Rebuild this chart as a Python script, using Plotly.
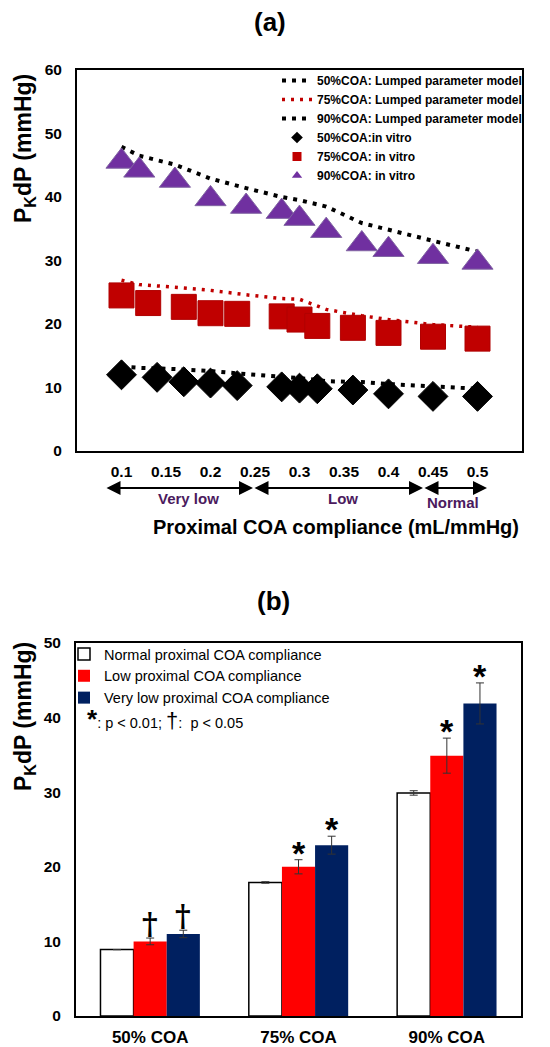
import plotly.graph_objects as go

# ---------------- data: panel (a) ----------------
x_model = [0.10, 0.12, 0.16, 0.20, 0.24, 0.28, 0.30, 0.33, 0.37, 0.40, 0.45, 0.50]
model50 = [13.3, 13.1, 12.9, 12.6, 12.1, 11.7, 11.5, 11.0, 10.85, 10.55, 10.1, 9.8]
model75 = [26.9, 26.2, 25.8, 25.3, 24.6, 24.0, 23.9, 22.3, 21.3, 20.7, 19.9, 19.5]
model90 = [47.9, 46.5, 45.1, 42.9, 41.4, 40.0, 39.5, 38.5, 35.9, 34.8, 33.1, 31.4]

x_vitro50 = [0.10, 0.14, 0.17, 0.20, 0.23, 0.28, 0.30, 0.32, 0.36, 0.40, 0.45, 0.50]
vitro50 = [12.0, 11.6, 10.9, 10.7, 10.3, 10.1, 9.9, 9.8, 9.6, 9.0, 8.6, 8.6]
x_vitro75 = [0.10, 0.13, 0.17, 0.20, 0.23, 0.28, 0.30, 0.32, 0.36, 0.40, 0.45, 0.50]
vitro75 = [24.5, 23.3, 22.7, 21.7, 21.6, 21.2, 20.7, 19.7, 19.4, 18.6, 18.0, 17.7]
x_vitro90 = [0.10, 0.12, 0.16, 0.20, 0.24, 0.28, 0.30, 0.33, 0.37, 0.40, 0.45, 0.50]
vitro90 = [45.6, 44.2, 42.6, 39.7, 38.5, 37.7, 36.6, 34.7, 32.6, 31.7, 30.6, 29.7]

x_ticks_a = [0.1, 0.15, 0.2, 0.25, 0.3, 0.35, 0.4, 0.45, 0.5]
x_ticktext_a = ["0.1", "0.15", "0.2", "0.25", "0.3", "0.35", "0.4", "0.45", "0.5"]
y_ticks_a = [0, 10, 20, 30, 40, 50, 60]

# ---------------- data: panel (b) ----------------
groups = ["50% COA", "75% COA", "90% COA"]
normal = [8.9, 17.9, 29.9]
normal_err = [0.0, 0.1, 0.3]
low = [10.0, 20.0, 34.9]
low_err = [0.45, 0.95, 2.35]
verylow = [11.0, 22.9, 41.9]
verylow_err = [0.5, 1.2, 2.75]
sig_low = ["†", "*", "*"]
sig_verylow = ["†", "*", "*"]
y_ticks_b = [0, 10, 20, 30, 40, 50]

FONT = "Liberation Sans, Arial, sans-serif"
OFF = 8                      # page body margin
W, H = 550 - OFF, 1047 - OFF


def px(xp):
    return (xp - OFF) / W


def py(yp):
    return 1 - (yp - OFF) / H


fig = go.Figure()

# ---- panel (a) model lines ----
line_specs = [
    (model50, "#000000", 4, "4px,6px", "50%COA: Lumped parameter model"),
    (model75, "#C00000", 3.5, "3px,6px", "75%COA: Lumped parameter model"),
    (model90, "#000000", 4, "4px,6px", "90%COA: Lumped parameter model"),
]
for ys, col, w, dash, name in line_specs:
    fig.add_trace(go.Scatter(x=x_model, y=ys, mode="lines", xaxis="x", yaxis="y",
                             line=dict(color=col, width=w, dash=dash),
                             name=name, showlegend=False))

marker_specs = [
    (x_vitro50, vitro50, "diamond", "#000000", "#000000", 23, "50%COA:in vitro"),
    (x_vitro75, vitro75, "square", "#C00000", "#B00000", 25, "75%COA: in vitro"),
    (x_vitro90, vitro90, "triangle-up", "#7030A0", "#8064A2", 27, "90%COA: in vitro"),
]
for xs, ys, sym, col, lcol, size, name in marker_specs:
    fig.add_trace(go.Scatter(x=xs, y=ys, mode="markers", xaxis="x", yaxis="y",
                             marker=dict(symbol=sym, color=col, size=size,
                                         line=dict(color=lcol, width=1)),
                             name=name, showlegend=False))

# legend entries for panel (a) with small symbols
for ys, col, w, dash, name in line_specs:
    fig.add_trace(go.Scatter(x=[None], y=[None], mode="lines", xaxis="x", yaxis="y",
                             line=dict(color=col, width=w, dash=dash),
                             name=name, legend="legend"))
for xs, ys, sym, col, lcol, size, name in marker_specs:
    fig.add_trace(go.Scatter(x=[None], y=[None], mode="markers", xaxis="x", yaxis="y",
                             marker=dict(symbol=sym, color=col, size=9),
                             name=name, legend="legend"))

# ---- panel (b) bars ----
bar_specs = [
    (normal, normal_err, "#FFFFFF", "#000000", 1.5, "Normal proximal COA compliance"),
    (low, low_err, "#FF0000", "#FF0000", 0, "Low proximal COA compliance"),
    (verylow, verylow_err, "#002060", "#002060", 0, "Very low proximal COA compliance"),
]
for ys, err, col, lcol, lw, name in bar_specs:
    fig.add_trace(go.Bar(x=groups, y=ys, xaxis="x2", yaxis="y2", name=name,
                         marker=dict(color=col, line=dict(color=lcol, width=lw)),
                         error_y=dict(type="data", array=err, visible=True,
                                      color="#333333", thickness=1, width=4),
                         legend="legend2"))

BARGAP = 0.33
bar_w = (1 - BARGAP) / 3

annotations = []
# significance marks above bars
for i, g in enumerate(groups):
    for offs, vals, errs, marks in [(0.0, low, low_err, sig_low),
                                    (bar_w, verylow, verylow_err, sig_verylow)]:
        m = marks[i]
        if m == "†":
            annotations.append(dict(x=i + offs, y=vals[i] + errs[i], xref="x2", yref="y2",
                                    text="<b>†</b>", showarrow=False, xanchor="center",
                                    yanchor="bottom", yshift=-5,
                                    font=dict(family="DejaVu Serif", size=30, color="#000")))
        else:
            annotations.append(dict(x=i + offs, y=vals[i] + errs[i], xref="x2", yref="y2",
                                    text="<b>*</b>", showarrow=False, xanchor="center",
                                    yanchor="bottom", yshift=-14,
                                    font=dict(family=FONT, size=34, color="#000")))


def label(x, y, text, size, color="#000", angle=0, xanchor="center", family=FONT):
    return dict(x=px(x), y=py(y), xref="paper", yref="paper", text=text, showarrow=False,
                xanchor=xanchor, yanchor="middle", textangle=angle,
                font=dict(family=family, size=size, color=color))


annotations += [
    label(270, 22, "<b>(a)</b>", 26),
    label(273, 601, "<b>(b)</b>", 26),
    label(24, 149, "<b>P<sub>K</sub>dP (mmHg)</b>", 23, angle=-90),
    label(24, 717, "<b>P<sub>K</sub>dP (mmHg)</b>", 23, angle=-90),
    label(336, 527, "<b>Proximal COA compliance (mL/mmHg)</b>", 20),
    label(188, 499, "<b>Very low</b>", 15, color="#4B1A5E"),
    label(343, 499, "<b>Low</b>", 15, color="#4B1A5E"),
    label(453, 502, "<b>Normal</b>", 15, color="#4B1A5E"),
    label(85, 719, "<span style='font-size:26px'><b>*</b></span>: p &lt; 0.01; "
                   "<span style='font-size:22px'>†</span>:  p &lt; 0.05", 14.5, xanchor="left"),
]

# double-headed range arrows under the x axis of panel (a)
for x0, x1 in [(105, 253), (253, 423), (423, 487)]:
    annotations.append(dict(x=px(x1), y=py(488), xref="paper", yref="paper",
                            ax=x0 - x1, ay=0, axref="pixel", ayref="pixel",
                            text="", showarrow=True, arrowside="end+start",
                            arrowhead=2, arrowsize=1.4, arrowwidth=2, arrowcolor="#000"))

axis_common = dict(showgrid=False, zeroline=False, showline=True, mirror=True,
                   linecolor="#000", linewidth=2, ticks="", automargin=False)

fig.update_layout(
    width=W, height=H,
    margin=dict(l=0, r=0, t=0, b=0, pad=0, autoexpand=False),
    paper_bgcolor="white", plot_bgcolor="white",
    font=dict(family=FONT, color="#000"),
    barmode="group", bargap=BARGAP, bargroupgap=0,
    xaxis=dict(domain=[px(77), px(522)], anchor="y", range=[0.05, 0.55],
               tickvals=x_ticks_a, ticktext=x_ticktext_a, ticklabelstandoff=5,
               tickfont=dict(family=FONT, size=15.5, weight="bold", color="#000"),
               **axis_common),
    yaxis=dict(domain=[py(451), py(70)], anchor="x", range=[0, 60],
               tickvals=y_ticks_a, ticklabelstandoff=10,
               tickfont=dict(family=FONT, size=15.5, weight="bold", color="#000"),
               **axis_common),
    xaxis2=dict(domain=[px(76), px(521)], anchor="y2", range=[-0.5, 2.5],
                ticklabelstandoff=5,
                tickfont=dict(family=FONT, size=17, weight="bold", color="#000"),
                **axis_common),
    yaxis2=dict(domain=[py(1016), py(643)], anchor="x2", range=[0, 50],
                tickvals=y_ticks_b, ticklabelstandoff=10,
                tickfont=dict(family=FONT, size=15.5, weight="bold", color="#000"),
                **axis_common),
    legend=dict(x=px(277), y=py(66), xanchor="left", yanchor="top",
                bgcolor="rgba(0,0,0,0)", tracegroupgap=0, itemwidth=30,
                font=dict(family=FONT, size=12, weight="bold", color="#000")),
    legend2=dict(x=px(64), y=py(638), xanchor="left", yanchor="top",
                 bgcolor="rgba(0,0,0,0)", tracegroupgap=0, itemwidth=30,
                 font=dict(family=FONT, size=14.5, color="#000")),
    annotations=annotations,
)

fig.write_html("out.html")
